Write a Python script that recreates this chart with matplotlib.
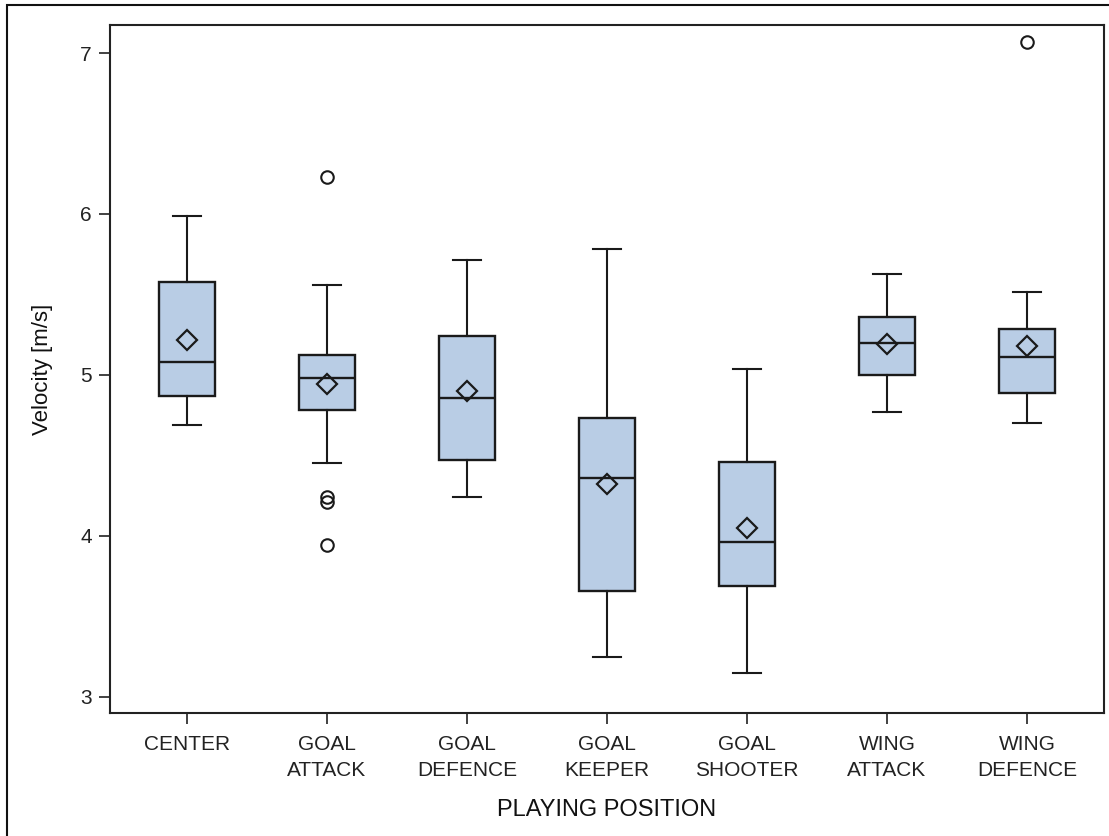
import matplotlib
matplotlib.use("Agg")
import matplotlib.pyplot as plt
from matplotlib.patches import Rectangle

plt.rcParams['font.family'] = ['Liberation Sans', 'DejaVu Sans']

positions = ['CENTER', 'GOAL\nATTACK', 'GOAL\nDEFENCE', 'GOAL\nKEEPER',
             'GOAL\nSHOOTER', 'WING\nATTACK', 'WING\nDEFENCE']
whis_low = [4.69, 4.455, 4.24, 3.25, 3.15, 4.77, 4.70]
q1 = [4.87, 4.78, 4.47, 3.66, 3.69, 5.00, 4.89]
medians = [5.08, 4.98, 4.857, 4.358, 3.965, 5.197, 5.11]
q3 = [5.575, 5.126, 5.24, 4.735, 4.46, 5.358, 5.284]
whis_high = [5.99, 5.56, 5.716, 5.78, 5.04, 5.627, 5.515]
means = [5.22, 4.944, 4.90, 4.32, 4.05, 5.19, 5.18]
outliers = [[], [6.23, 4.24, 4.21, 3.944], [], [], [], [], [7.07]]

stats = []
for i in range(len(positions)):
    stats.append({'whislo': whis_low[i], 'q1': q1[i], 'med': medians[i],
                  'q3': q3[i], 'whishi': whis_high[i], 'mean': means[i],
                  'fliers': outliers[i]})

fig = plt.figure(figsize=(11.09, 8.36), dpi=100)
ax = fig.add_axes([110/1109, 1 - 713/836, (1104-110)/1109, (713-25)/836])

edge = '#1a1a1a'
ax.bxp(stats, positions=range(len(positions)), widths=0.4, patch_artist=True,
       showmeans=True, showfliers=True,
       boxprops=dict(facecolor='#b9cde5', edgecolor=edge, linewidth=1.7),
       medianprops=dict(color=edge, linewidth=1.7),
       whiskerprops=dict(color=edge, linewidth=1.5),
       capprops=dict(color=edge, linewidth=1.5),
       capwidths=0.2,
       meanprops=dict(marker='D', markerfacecolor='none', markeredgecolor=edge,
                      markersize=10, markeredgewidth=1.6),
       flierprops=dict(marker='o', markerfacecolor='none', markeredgecolor=edge,
                       markersize=9, markeredgewidth=1.5))

ax.set_xlim(-0.55, 6.55)
ax.set_ylim(2.90, 7.174)
ax.set_yticks([3, 4, 5, 6, 7])
ax.set_xticks(range(len(positions)))
ax.set_xticklabels(positions, linespacing=1.45)
ax.tick_params(axis='both', labelsize=15, length=8, width=1.3, color='#333333',
               labelcolor='#222222', pad=5)
ax.tick_params(axis='x', pad=8)
for s in ax.spines.values():
    s.set_linewidth(1.5)
    s.set_color('#222222')

ax.set_ylabel('Velocity [m/s]', fontsize=16, color='#111111', labelpad=20)
ax.set_xlabel('PLAYING POSITION', fontsize=17, color='#111111', labelpad=14)

fig.patches.append(Rectangle((7/1109, -0.05), 1.2, 1 - 5/836 + 0.05,
                             transform=fig.transFigure, fill=False,
                             edgecolor='#111111', linewidth=1.5))

fig.savefig('out.png', dpi=100)
